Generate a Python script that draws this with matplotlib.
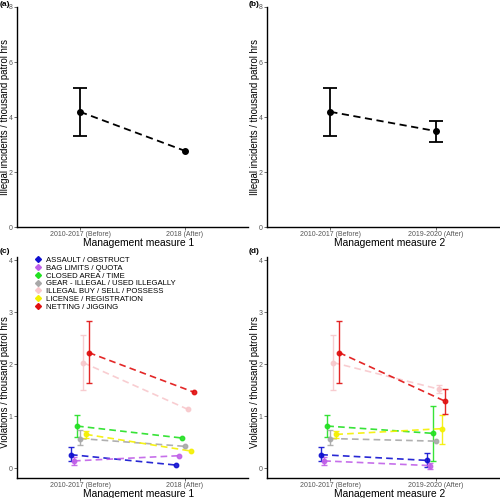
import numpy as np
import matplotlib
matplotlib.use('Agg')
import matplotlib.pyplot as plt
from matplotlib.lines import Line2D

plt.rcParams['font.family'] = ['Liberation Sans', 'DejaVu Sans']

# Категории по оста x
periods_m1 = ['2010-2017 (Before)', '2018 (After)']
periods_m2 = ['2010-2017 (Before)', '2019-2020 (After)']

# Общо нарушения (панели a и b)
total_m1 = [4.19, 2.77]
total_m1_lo = [3.32, np.nan]
total_m1_hi = [5.04, np.nan]
total_m2 = [4.19, 3.49]
total_m2_lo = [3.32, 3.10]
total_m2_hi = [5.04, 3.87]

# Типове нарушения (панели c и d)
types = ['ASSAULT / OBSTRUCT', 'BAG LIMITS / QUOTA', 'CLOSED AREA / TIME',
         'GEAR - ILLEGAL / USED ILLEGALLY', 'ILLEGAL BUY / SELL / POSSESS',
         'LICENSE / REGISTRATION', 'NETTING / JIGGING']
colors = ['#1010d0', '#c060e8', '#22e022', '#a8a8a8', '#f8c8cc', '#f4f000', '#e01010']

before = [0.26, 0.14, 0.81, 0.57, 2.03, 0.65, 2.22]
before_lo = [0.14, 0.06, 0.60, 0.44, 1.50, 0.58, 1.64]
before_hi = [0.40, 0.22, 1.02, 0.73, 2.56, 0.72, 2.83]

after_m1 = [0.06, 0.24, 0.58, 0.42, 1.13, 0.33, 1.46]

after_m2 = [0.15, 0.05, 0.67, 0.52, 1.52, 0.76, 1.29]
after_m2_lo = [0.03, -0.01, 0.14, np.nan, 1.45, 0.46, 1.05]
after_m2_hi = [0.29, 0.10, 1.19, np.nan, 1.60, 1.03, 1.53]

fig = plt.figure(figsize=(5.0, 4.98), dpi=100)


def style_axes(ax, labels, xlabel, ylabel, ylim, yticks, ylab_y):
    ax.set_xlim(0.4, 2.6)
    ax.set_ylim(*ylim)
    ax.set_xticks([1, 2])
    ax.set_xticklabels(labels, fontsize=5, color='#555555')
    ax.set_yticks(yticks)
    ax.set_yticklabels([str(t) for t in yticks], fontsize=5, color='#555555')
    ax.tick_params(length=2, width=0.6, color='#555555', pad=1)
    for s in ['top', 'right']:
        ax.spines[s].set_visible(False)
    for s in ['left', 'bottom']:
        ax.spines[s].set_linewidth(1.0)
    ax.set_xlabel(xlabel, fontsize=7.4)
    ax.set_ylabel(ylabel, fontsize=6.9)
    ax.xaxis.set_label_coords(0.527, -0.05)
    ax.yaxis.set_label_coords(-0.029, ylab_y)


def draw_total(ax, vals, lo, hi):
    x = np.array([1, 2])
    vals = np.array(vals)
    ax.plot(x, vals, ls=(0, (4, 2.5)), color='black', lw=1.3)
    yerr = np.array([vals - np.array(lo), np.array(hi) - vals])
    ax.errorbar(x, vals, yerr=yerr, fmt='o', color='black', ms=4,
                capsize=4.7, elinewidth=1.3, capthick=1.3)


def draw_types(ax, after, after_lo=None, after_hi=None):
    n = len(types)
    for i in range(n):
        off = (i - (n - 1) / 2) * 0.2 / n
        x = np.array([1 + off, 2 + off])
        y = np.array([before[i], after[i]])
        ax.plot(x, y, ls=(0, (4, 2.5)), color=colors[i], lw=1.2, alpha=0.9)
        lo = [before_lo[i], after_lo[i] if after_lo else np.nan]
        hi = [before_hi[i], after_hi[i] if after_hi else np.nan]
        yerr = np.array([y - np.array(lo), np.array(hi) - y])
        ax.errorbar(x, y, yerr=yerr, fmt='o', color=colors[i], ms=3.2,
                    capsize=2.5, elinewidth=1.0, capthick=1.0, alpha=0.9)


ax_a = fig.add_axes([0.034, 0.544, 0.462, 0.442])
draw_total(ax_a, total_m1, total_m1_lo, total_m1_hi)
style_axes(ax_a, periods_m1, 'Management measure 1',
           'Illegal incidents / thousand patrol hrs', (0, 8), [0, 2, 4, 6, 8], 0.5)

ax_b = fig.add_axes([0.534, 0.544, 0.464, 0.442])
draw_total(ax_b, total_m2, total_m2_lo, total_m2_hi)
style_axes(ax_b, periods_m2, 'Management measure 2',
           'Illegal incidents / thousand patrol hrs', (0, 8), [0, 2, 4, 6, 8], 0.5)

ax_c = fig.add_axes([0.034, 0.040, 0.462, 0.444])
draw_types(ax_c, after_m1)
style_axes(ax_c, periods_m1, 'Management measure 1',
           'Violations / thousand patrol hrs', (-0.19, 4.06), [0, 1, 2, 3, 4], 0.436)

ax_d = fig.add_axes([0.534, 0.040, 0.464, 0.444])
draw_types(ax_d, after_m2, after_m2_lo, after_m2_hi)
style_axes(ax_d, periods_m2, 'Management measure 2',
           'Violations / thousand patrol hrs', (-0.19, 4.06), [0, 1, 2, 3, 4], 0.436)

handles = [Line2D([0], [0], marker='D', ls='none', color=c, ms=3) for c in colors]
ax_c.legend(handles, types, loc='upper left', bbox_to_anchor=(0.06, 1.02),
            fontsize=5.6, frameon=False, handlelength=0.8, handletextpad=0.6,
            labelspacing=0.05, borderpad=0)

for label, x, y in [('(a)', 0.0, 0.997), ('(b)', 0.497, 0.997),
                    ('(c)', 0.0, 0.502), ('(d)', 0.497, 0.502)]:
    fig.text(x, y, label, fontsize=6, fontweight='bold', va='top', ha='left')

fig.savefig('out.png', dpi=100)
